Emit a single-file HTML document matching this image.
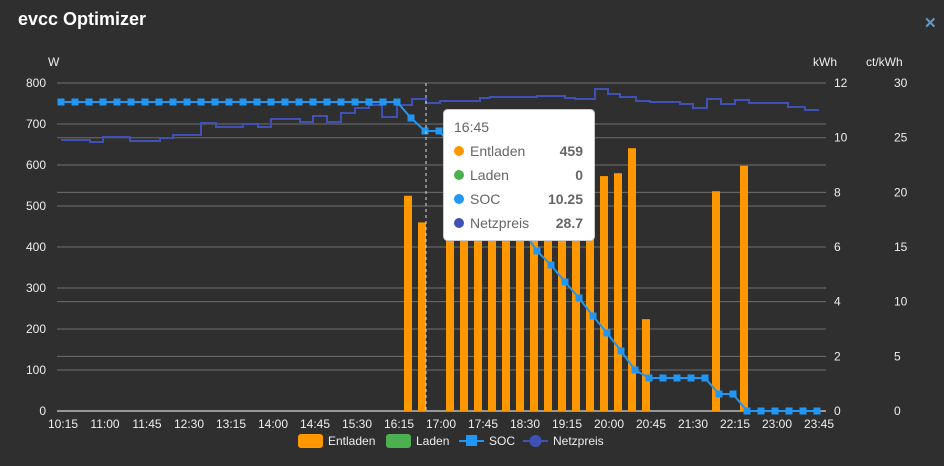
<!DOCTYPE html>
<html><head><meta charset="utf-8"><style>
html,body{margin:0;padding:0;background:#2f2f2f;width:944px;height:466px;overflow:hidden}
svg{display:block;font-family:"Liberation Sans",sans-serif}
</style></head><body>
<svg id="s" width="944" height="466" xmlns="http://www.w3.org/2000/svg">
<rect width="944" height="466" fill="#2f2f2f"/>
<text x="18" y="25" fill="#fff" font-size="18" font-weight="bold">evcc Optimizer</text>
<text x="924" y="28" fill="#5b9bd5" font-size="15" font-weight="bold">✕</text>
<text x="48" y="66" fill="#eee" font-size="12">W</text>
<text x="813" y="66" fill="#eee" font-size="12">kWh</text>
<text x="866" y="66" fill="#eee" font-size="12">ct/kWh</text>
<g id="g"></g>
</svg>
<script>
var g=document.getElementById('g'),h='';
var X0=63,S=14,L=57,R=826;
for(var i=0;i<=8;i++){var y=411-i*41;h+='<line x1="'+L+'" x2="'+R+'" y1="'+y+'" y2="'+y+'" stroke="#6f6f6f"/>';
h+='<text x="46" y="'+(y+4)+'" fill="#eee" font-size="12" text-anchor="end">'+(i*100)+'</text>';}
for(var i=1;i<=6;i++){var y=411-i*2*27.33;h+='<line x1="'+L+'" x2="'+R+'" y1="'+y+'" y2="'+y+'" stroke="#6f6f6f"/>';}
for(var i=0;i<=6;i++){var y=411-i*2*27.33;h+='<text x="834" y="'+(y+4)+'" fill="#eee" font-size="12">'+(i*2)+'</text>';
h+='<text x="894" y="'+(y+4)+'" fill="#eee" font-size="12">'+(i*5)+'</text>';}
h+='<line x1="'+L+'" x2="'+R+'" y1="411" y2="411" stroke="#fff"/>';
var t=['10:15','11:00','11:45','12:30','13:15','14:00','14:45','15:30','16:15','17:00','17:45','18:30','19:15','20:00','20:45','21:30','22:15','23:00','23:45'];
for(var i=0;i<t.length;i++)h+='<text x="'+(X0+i*42)+'" y="428" fill="#eee" font-size="12" text-anchor="middle">'+t[i]+'</text>';
var bars={24:525,25:460,27:480,28:500,29:520,30:510,31:495,32:505,33:520,34:530,35:540,36:548,37:560,38:573,39:580,40:641,41:224,46:536,48:598};
for(var k in bars){var x=X0+k*S+5,v=bars[k],y=411-v*0.41;h+='<rect x="'+x+'" y="'+y+'" width="8" height="'+(411-y)+'" fill="#ff9800"/>';}
var np=[[61,140],[90,142],[103,137],[130,141],[160,138],[173,135],[201,123],[216,127],[243,124],[258,127],[271,119],[300,122],[313,116],[327,122],[341,113],[355,108],[369,105],[382,117],[397,105],[412,99],[426,103],[440,101],[480,98],[490,97],[537,96],[565,98],[575,99],[595,89],[608,94],[620,97],[636,101],[650,102],[680,104],[693,108],[707,99],[721,104],[735,100],[749,103],[788,107],[805,110],[819,110]];
var d='M'+np[0][0]+','+np[0][1];for(var i=1;i<np.length;i++)d+='H'+np[i][0]+'V'+np[i][1];
h+='<path d="'+d+'" fill="none" stroke="#3f51b5" stroke-width="2"/>';
var soc=[];for(var i=0;i<=24;i++)soc.push([X0-2+i*S,102]);
soc.push([X0-2+25*S,118]);
for(var i=26;i<=27;i++)soc.push([X0-2+i*S,131]);
var ys=[147,163,180,197,214,231,251,265,282,298,316,333,351,370,378];
for(var i=0;i<ys.length;i++)soc.push([X0-2+(28+i)*S,ys[i]]);
for(var i=43;i<=46;i++)soc.push([X0-2+i*S,378]);
soc.push([X0-2+47*S,394]);soc.push([X0-2+48*S,394]);
for(var i=49;i<=54;i++)soc.push([X0-2+i*S,411]);
d='M'+soc.map(function(p){return p[0]+','+p[1]}).join('L');
h+='<path d="'+d+'" fill="none" stroke="#2196f3" stroke-width="2"/>';
soc.forEach(function(p){h+='<rect x="'+(p[0]-3.5)+'" y="'+(p[1]-3.5)+'" width="7" height="7" fill="#2196f3"/>';});
h+='<line x1="426" x2="426" y1="83" y2="411" stroke="#ddd" stroke-dasharray="3,3"/>';
h+='<rect x="443.5" y="109.5" width="151" height="131" rx="4" fill="#fff" stroke="#ccc"/>';
h+='<text x="454" y="132" fill="#666" font-size="14">16:45</text>';
var tt=[['#ff9800','Entladen','459'],['#4caf50','Laden','0'],['#2196f3','SOC','10.25'],['#3f51b5','Netzpreis','28.7']];
tt.forEach(function(r,i){var y=156+i*24;h+='<circle cx="459" cy="'+(y-5)+'" r="5" fill="'+r[0]+'"/><text x="470" y="'+y+'" fill="#666" font-size="14">'+r[1]+'</text><text x="583" y="'+y+'" fill="#666" font-size="14" font-weight="bold" text-anchor="end">'+r[2]+'</text>';});
h+='<rect x="298" y="434" width="25" height="14" rx="3" fill="#ff9800"/><text x="328" y="445" fill="#eee" font-size="12">Entladen</text>';
h+='<rect x="386" y="434" width="25" height="14" rx="3" fill="#4caf50"/><text x="416" y="445" fill="#eee" font-size="12">Laden</text>';
h+='<line x1="459" x2="484" y1="441" y2="441" stroke="#2196f3" stroke-width="2"/><rect x="466" y="435" width="11" height="11" fill="#2196f3"/><text x="489" y="445" fill="#eee" font-size="12">SOC</text>';
h+='<line x1="523" x2="548" y1="441" y2="441" stroke="#3f51b5" stroke-width="2"/><circle cx="535.5" cy="441" r="6" fill="#3f51b5"/><text x="553" y="445" fill="#eee" font-size="12">Netzpreis</text>';
g.innerHTML=h;
</script>
</body></html>
